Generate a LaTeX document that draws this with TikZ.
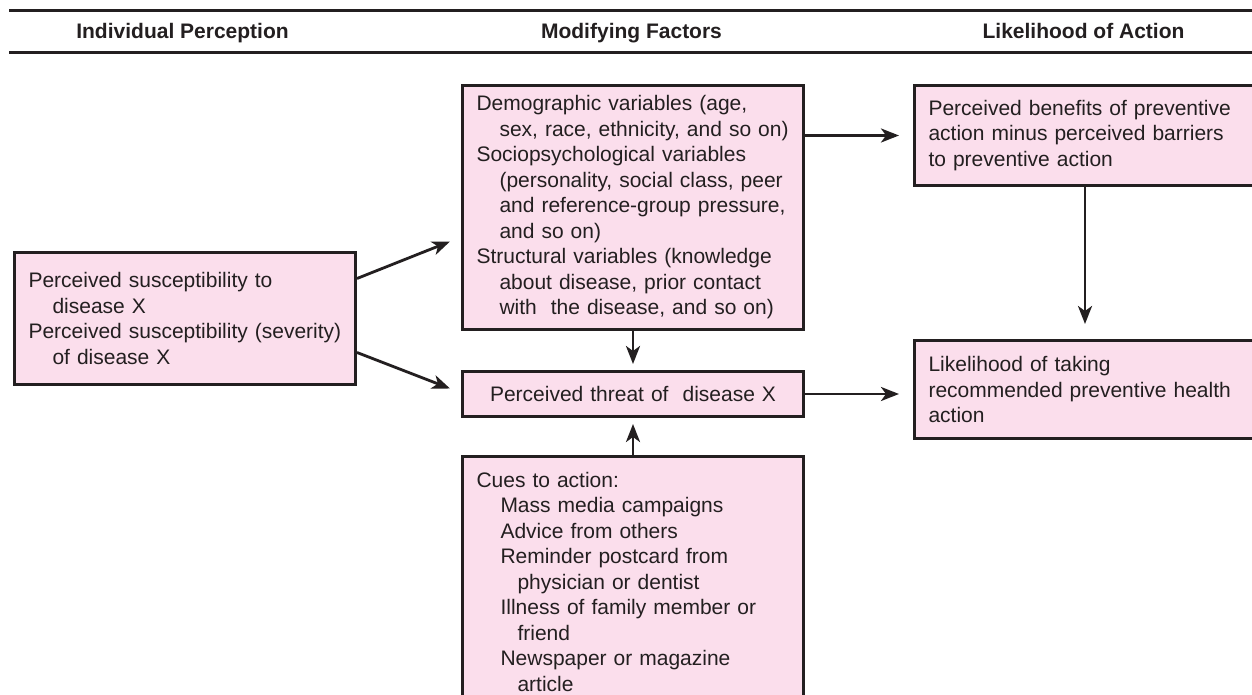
\documentclass[tikz,border=0pt]{standalone}
\usepackage{fontspec}
\setmainfont{Liberation Sans}
\usetikzlibrary{arrows.meta}
\definecolor{boxfill}{RGB}{251,222,236}
\definecolor{ink}{RGB}{35,31,32}
\begin{document}
\begin{tikzpicture}[x=1pt,y=-1pt,
  box/.style={draw=ink, line width=3pt, fill=boxfill, inner xsep=14pt, inner ysep=0pt,
    align=left, font=\fontsize{21}{25.5}\selectfont, text=ink, anchor=north west},
  arr/.style={draw=ink, line width=2.8pt, -{Stealth[length=18pt,width=14pt,inset=5pt]}},
  head/.style={font=\bfseries\fontsize{21}{25}\selectfont, text=ink, anchor=base},
  rulel/.style={draw=ink, line width=3pt}]
\clip (0,0) rectangle (1252,695);
\fill[white] (0,0) rectangle (1252,695);
% header rules
\draw[rulel] (9,10.5) -- (1252,10.5);
\draw[rulel] (9,52.5) -- (1252,52.5);
% headers
\node[head] (h1) at (182.5,39) {Individual Perception};
\node[head] (h2) at (631.5,39) {Modifying Factors};
\node[head] (h3) at (1083.5,39) {Likelihood of Action};
% boxes
\node[box, minimum width=341pt, minimum height=132pt, text width=313pt] (lp) at (13,251)
  {Perceived susceptibility to\\\hspace*{24pt}disease X\\Perceived susceptibility (severity)\\\hspace*{24pt}of disease X};
\node[box, minimum width=341pt, minimum height=244pt, text width=313pt] (md) at (461,84)
  {Demographic variables (age,\\\hspace*{23pt}sex, race, ethnicity, and so on)\\Sociopsychological variables\\\hspace*{23pt}(personality, social class, peer\\\hspace*{23pt}and reference-group pressure,\\\hspace*{23pt}and so on)\\Structural variables (knowledge\\\hspace*{23pt}about disease, prior contact\\\hspace*{23pt}with~ the disease, and so on)};
\node[box, minimum width=341pt, minimum height=45pt, text width=313pt, align=center] (thr) at (461,370)
  {Perceived threat of~ disease X};
\node[box, minimum width=341pt, minimum height=250pt, text width=313pt] (cu) at (461,455)
  {Cues to action:\\\hspace*{24pt}Mass media campaigns\\\hspace*{24pt}Advice from others\\\hspace*{24pt}Reminder postcard from\\\hspace*{41pt}physician or dentist\\\hspace*{24pt}Illness of family member or\\\hspace*{41pt}friend\\\hspace*{24pt}Newspaper or magazine\\\hspace*{41pt}article};
\node[box, minimum width=341pt, minimum height=100pt, text width=313pt] (ben) at (913,84)
  {Perceived benefits of preventive\\action minus perceived barriers\\to preventive action};
\node[box, minimum width=341pt, minimum height=98pt, text width=313pt] (lk) at (913,339)
  {Likelihood of taking\\recommended preventive health\\action};
% connectors
\draw[arr] ([yshift=40pt]lp.east) -- ([xshift=-11pt,yshift=-34pt]md.west);
\draw[arr] ([yshift=-34pt]lp.east) -- ([xshift=-11pt,yshift=5.5pt]thr.west);
\draw[arr, shorten >=6pt] (md.south) -- (thr.north);
\draw[arr, shorten >=6pt] (cu.north) -- (thr.south);
\draw[arr, shorten >=14pt] (ben.west -| md.east) -- (ben.west);
\draw[arr, shorten >=14pt] (thr.east) -- (thr.east -| lk.west);
\draw[arr, shorten >=15pt] (ben.south) -- (lk.north);
\end{tikzpicture}
\end{document}
